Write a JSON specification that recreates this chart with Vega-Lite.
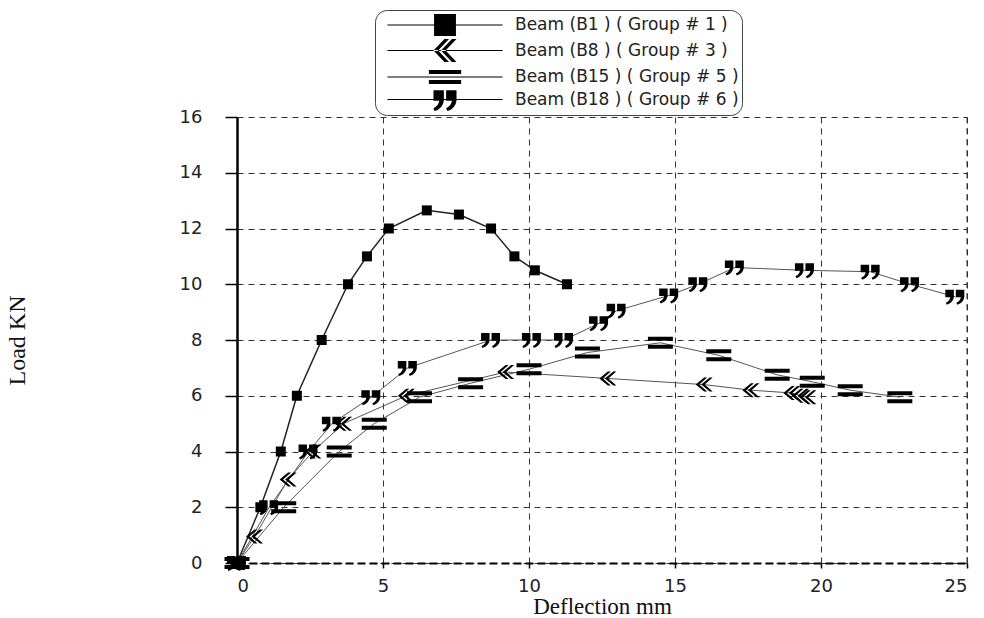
{
  "$schema": "https://vega.github.io/schema/vega-lite/v6.json",
  "width": 730,
  "height": 446,
  "autosize": "none",
  "padding": {"left": 237, "top": 117, "right": 17, "bottom": 55},
  "background": "white",
  "config": {"view": {"stroke": null}},
  "data": {"values": [
    {"beam": "Beam (B1 ) ( Group # 1 )", "x": 0, "y": 0},
    {"beam": "Beam (B1 ) ( Group # 1 )", "x": 0.8, "y": 2},
    {"beam": "Beam (B1 ) ( Group # 1 )", "x": 1.5, "y": 4},
    {"beam": "Beam (B1 ) ( Group # 1 )", "x": 2.05, "y": 6},
    {"beam": "Beam (B1 ) ( Group # 1 )", "x": 2.9, "y": 8},
    {"beam": "Beam (B1 ) ( Group # 1 )", "x": 3.8, "y": 10},
    {"beam": "Beam (B1 ) ( Group # 1 )", "x": 4.45, "y": 11},
    {"beam": "Beam (B1 ) ( Group # 1 )", "x": 5.2, "y": 12},
    {"beam": "Beam (B1 ) ( Group # 1 )", "x": 6.5, "y": 12.65},
    {"beam": "Beam (B1 ) ( Group # 1 )", "x": 7.6, "y": 12.5},
    {"beam": "Beam (B1 ) ( Group # 1 )", "x": 8.7, "y": 12},
    {"beam": "Beam (B1 ) ( Group # 1 )", "x": 9.5, "y": 11},
    {"beam": "Beam (B1 ) ( Group # 1 )", "x": 10.2, "y": 10.5},
    {"beam": "Beam (B1 ) ( Group # 1 )", "x": 11.3, "y": 10},
    {"beam": "Beam (B8 ) ( Group # 3 )", "x": 0, "y": 0},
    {"beam": "Beam (B8 ) ( Group # 3 )", "x": 0.6, "y": 0.95},
    {"beam": "Beam (B8 ) ( Group # 3 )", "x": 1.75, "y": 3},
    {"beam": "Beam (B8 ) ( Group # 3 )", "x": 2.6, "y": 4},
    {"beam": "Beam (B8 ) ( Group # 3 )", "x": 3.65, "y": 5},
    {"beam": "Beam (B8 ) ( Group # 3 )", "x": 5.8, "y": 6},
    {"beam": "Beam (B8 ) ( Group # 3 )", "x": 9.2, "y": 6.85},
    {"beam": "Beam (B8 ) ( Group # 3 )", "x": 12.7, "y": 6.62},
    {"beam": "Beam (B8 ) ( Group # 3 )", "x": 16, "y": 6.4},
    {"beam": "Beam (B8 ) ( Group # 3 )", "x": 17.6, "y": 6.2},
    {"beam": "Beam (B8 ) ( Group # 3 )", "x": 19, "y": 6.1},
    {"beam": "Beam (B8 ) ( Group # 3 )", "x": 19.3, "y": 6.0},
    {"beam": "Beam (B8 ) ( Group # 3 )", "x": 19.55, "y": 5.95},
    {"beam": "Beam (B15 ) ( Group # 5 )", "x": 0, "y": 0},
    {"beam": "Beam (B15 ) ( Group # 5 )", "x": 1.6, "y": 2},
    {"beam": "Beam (B15 ) ( Group # 5 )", "x": 3.5, "y": 4},
    {"beam": "Beam (B15 ) ( Group # 5 )", "x": 4.7, "y": 5},
    {"beam": "Beam (B15 ) ( Group # 5 )", "x": 6.25, "y": 5.95},
    {"beam": "Beam (B15 ) ( Group # 5 )", "x": 8, "y": 6.45},
    {"beam": "Beam (B15 ) ( Group # 5 )", "x": 10, "y": 6.95},
    {"beam": "Beam (B15 ) ( Group # 5 )", "x": 12, "y": 7.55},
    {"beam": "Beam (B15 ) ( Group # 5 )", "x": 14.5, "y": 7.9},
    {"beam": "Beam (B15 ) ( Group # 5 )", "x": 16.5, "y": 7.45},
    {"beam": "Beam (B15 ) ( Group # 5 )", "x": 18.5, "y": 6.75},
    {"beam": "Beam (B15 ) ( Group # 5 )", "x": 19.7, "y": 6.5},
    {"beam": "Beam (B15 ) ( Group # 5 )", "x": 21, "y": 6.2},
    {"beam": "Beam (B15 ) ( Group # 5 )", "x": 22.7, "y": 5.95},
    {"beam": "Beam (B18 ) ( Group # 6 )", "x": 0, "y": 0},
    {"beam": "Beam (B18 ) ( Group # 6 )", "x": 1.1, "y": 2},
    {"beam": "Beam (B18 ) ( Group # 6 )", "x": 2.45, "y": 4},
    {"beam": "Beam (B18 ) ( Group # 6 )", "x": 3.25, "y": 5},
    {"beam": "Beam (B18 ) ( Group # 6 )", "x": 4.6, "y": 5.95},
    {"beam": "Beam (B18 ) ( Group # 6 )", "x": 5.85, "y": 7},
    {"beam": "Beam (B18 ) ( Group # 6 )", "x": 8.7, "y": 8},
    {"beam": "Beam (B18 ) ( Group # 6 )", "x": 10.1, "y": 8},
    {"beam": "Beam (B18 ) ( Group # 6 )", "x": 11.2, "y": 8},
    {"beam": "Beam (B18 ) ( Group # 6 )", "x": 12.4, "y": 8.6},
    {"beam": "Beam (B18 ) ( Group # 6 )", "x": 13, "y": 9.05},
    {"beam": "Beam (B18 ) ( Group # 6 )", "x": 14.8, "y": 9.6},
    {"beam": "Beam (B18 ) ( Group # 6 )", "x": 15.8, "y": 10},
    {"beam": "Beam (B18 ) ( Group # 6 )", "x": 17.05, "y": 10.6},
    {"beam": "Beam (B18 ) ( Group # 6 )", "x": 19.45, "y": 10.5},
    {"beam": "Beam (B18 ) ( Group # 6 )", "x": 21.7, "y": 10.45},
    {"beam": "Beam (B18 ) ( Group # 6 )", "x": 23.05, "y": 10},
    {"beam": "Beam (B18 ) ( Group # 6 )", "x": 24.6, "y": 9.55}
  ]},
  "encoding": {
    "x": {"field": "x", "type": "quantitative",
      "scale": {"domain": [0, 25], "nice": false, "zero": false},
      "axis": {"title": "Deflection mm", "values": [0, 5, 10, 15, 20, 25],
        "grid": true, "gridDash": [6, 5], "gridColor": "#333", "gridWidth": 1, "gridOpacity": 1,
        "domainColor": "#000", "domainWidth": 2, "domainDash": [8, 4],
        "tickColor": "#000", "tickSize": 5, "tickWidth": 1.5,
        "labelFont": "DejaVu Sans", "labelFontSize": 18, "labelColor": "#222", "labelPadding": 9,
        "titleFont": "Liberation Serif", "titleFontSize": 23, "titleFontWeight": "normal", "titleColor": "#111", "titlePadding": 0}},
    "y": {"field": "y", "type": "quantitative",
      "scale": {"domain": [0, 16], "nice": false, "zero": false},
      "axis": {"title": "Load KN", "values": [0, 2, 4, 6, 8, 10, 12, 14, 16],
        "grid": true, "gridDash": [6, 5], "gridColor": "#333", "gridWidth": 1, "gridOpacity": 1,
        "domainColor": "#000", "domainWidth": 2.5,
        "tickColor": "#000", "tickSize": 12, "tickWidth": 1.5,
        "labelFont": "DejaVu Sans", "labelFontSize": 18, "labelColor": "#222", "labelPadding": 23,
        "titleFont": "Liberation Serif", "titleFontSize": 24, "titleFontWeight": "normal", "titleColor": "#111", "titlePadding": 150}}
  },
  "resolve": {"scale": {"shape": "independent"}, "legend": {"shape": "independent"}},
  "layer": [
    {"mark": {"type": "rule", "color": "#333", "strokeDash": [6, 5], "strokeWidth": 1},
     "data": {"values": [{"x": 25}]},
     "encoding": {"x": {"field": "x", "type": "quantitative"}, "y": null}},
    {"transform": [{"filter": "datum.beam === 'Beam (B1 ) ( Group # 1 )'"}],
     "mark": {"type": "line", "clip": false, "color": "#222", "strokeWidth": 1.5},
     "encoding": {"detail": {"field": "beam"}}},
    {"transform": [{"filter": "datum.beam !== 'Beam (B1 ) ( Group # 1 )'"}],
     "mark": {"type": "line", "clip": false, "color": "#555", "strokeWidth": 1},
     "encoding": {"detail": {"field": "beam"}}},
    {"mark": {"type": "point", "filled": true, "color": "#000", "opacity": 1, "size": 100, "clip": false},
     "encoding": {
       "shape": {"field": "beam", "type": "nominal", "legend": null,
         "scale": {"domain": ["Beam (B1 ) ( Group # 1 )", "Beam (B8 ) ( Group # 3 )", "Beam (B15 ) ( Group # 5 )", "Beam (B18 ) ( Group # 6 )"],
           "range": [
             "M-1,-1H1V1H-1Z",
             "M0,-1.4L-1.7,0L0,1.4L0.6,1.4L-1.0,0L0.6,-1.4Z M1.1,-1.4L-0.6,0L1.1,1.4L1.7,1.4L0.1,0L1.7,-1.4Z",
             "M-2.5,-1.2H2.5V-0.4H-2.5Z M-2.5,0.4H2.5V1.2H-2.5Z",
             "M-2,-1.4L-0.3,-1.4L-0.3,0.1Q-0.5,1.2,-1.7,1.6L-1.9,1.2Q-1.1,0.8,-1.0,0.1L-2,0.1Z M0.1,-1.4L1.8,-1.4L1.8,0.1Q1.6,1.2,0.4,1.6L0.2,1.2Q1.0,0.8,1.1,0.1L0.1,0.1Z"
           ]}}
     }},
    {"transform": [{"filter": "false"}],
     "mark": {"type": "point", "filled": true, "color": "#000", "opacity": 1, "size": 530},
     "encoding": {
       "shape": {"field": "beam", "type": "nominal",
         "scale": {"domain": ["Beam (B1 ) ( Group # 1 )", "Beam (B8 ) ( Group # 3 )", "Beam (B15 ) ( Group # 5 )", "Beam (B18 ) ( Group # 6 )"],
           "range": [
             "M-0.95,-0.95H0.95V0.95H-0.95Z M-5,-0.05H5V0.05H-5Z",
             "M-0.05,-1L-1,0L-0.05,1L0.35,1L-0.6,0L0.35,-1Z M0.6,-1L-0.35,0L0.6,1L1,1L0.05,0L1,-1Z M-5,-0.05H5V0.05H-5Z",
             "M-1.4,-0.6H1.4V-0.25H-1.4Z M-1.4,0.25H1.4V0.6H-1.4Z M-5,-0.05H5V0.05H-5Z",
             "M-1,-0.8L-0.1,-0.8L-0.1,0.1Q-0.2,0.8,-0.9,1L-1,0.75Q-0.55,0.5,-0.5,0.1L-1,0.1Z M0.1,-0.8L1,-0.8L1,0.1Q0.9,0.8,0.2,1L0.1,0.75Q0.55,0.5,0.6,0.1L0.1,0.1Z M-5,-0.05H5V0.05H-5Z"
           ]},
         "legend": {"title": null, "orient": "none", "legendX": 138, "legendY": -107,
           "strokeColor": "#444", "cornerRadius": 12, "padding": 3, "fillColor": "white",
           "labelFont": "DejaVu Sans", "labelFontSize": 17, "labelColor": "#222",
           "symbolSize": 530, "symbolFillColor": "#000", "symbolStrokeWidth": 0, "symbolOpacity": 1,
           "rowPadding": 2.5, "symbolOffset": 55, "labelOffset": 58, "labelLimit": 400}}
     }}
  ]
}
